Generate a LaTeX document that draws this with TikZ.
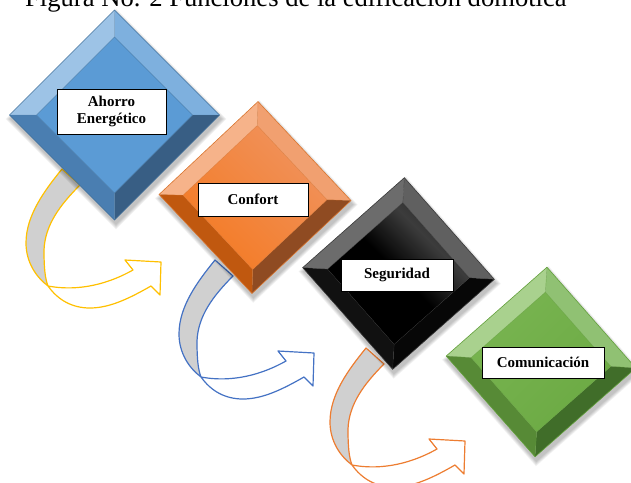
\documentclass[tikz,border=0pt]{standalone}
\usepackage{fontspec}
\setmainfont{Liberation Serif}

% bevel faces: TL, TR, BL, BR, inner face, outline
\definecolor{blueTL}{HTML}{9DC3E6}
\definecolor{blueTR}{HTML}{7EB0DE}
\definecolor{blueBL}{HTML}{4A7EB1}
\definecolor{blueBR}{HTML}{385E84}
\definecolor{blueIn}{HTML}{5B9BD5}
\definecolor{blueLine}{HTML}{41719C}
\definecolor{orangeTL}{HTML}{F6B38A}
\definecolor{orangeTR}{HTML}{F1A070}
\definecolor{orangeBL}{HTML}{C0580F}
\definecolor{orangeBR}{HTML}{8F4B22}
\definecolor{orangeIn}{HTML}{F47B25}
\definecolor{orangeInHi}{HTML}{F0925C}
\definecolor{orangeLine}{HTML}{D9752F}
\definecolor{blackTL}{HTML}{6C6C6C}
\definecolor{blackTR}{HTML}{606060}
\definecolor{blackBL}{HTML}{111111}
\definecolor{blackBR}{HTML}{070707}
\definecolor{blackGlint}{HTML}{3C3C3C}
\definecolor{blackEdge}{HTML}{2A2A2A}
\definecolor{blackLine}{HTML}{3A3A3A}
\definecolor{greenTL}{HTML}{A9D18E}
\definecolor{greenTR}{HTML}{90C173}
\definecolor{greenBL}{HTML}{578A36}
\definecolor{greenBR}{HTML}{406D29}
\definecolor{greenIn}{HTML}{6CAA44}
\definecolor{greenInHi}{HTML}{78B450}
\definecolor{greenLine}{HTML}{63A03C}
% curved arrows
\definecolor{arrYellow}{HTML}{FFC000}
\definecolor{arrBlue}{HTML}{4472C4}
\definecolor{arrOrange}{HTML}{ED7D31}
\definecolor{arrGrey}{HTML}{D0D0D0}

% glossy glint along the upper right of the black face
\pgfdeclarehorizontalshading{gemglint}{100bp}{color(0bp)=(black); color(50bp)=(black);
  color(66bp)=(blackGlint); color(75bp)=(blackEdge); color(100bp)=(blackEdge)}

\tikzset{
  blue inner/.style={fill=blueIn},
  orange inner/.style={top color=orangeInHi, bottom color=orangeIn, shading angle=-45},
  black inner/.style={shading=gemglint, shading angle=45},
  green inner/.style={top color=greenInHi, bottom color=greenIn, shading angle=45},
  lbl/.style={draw=black, line width=0.8pt, fill=white, align=center, inner sep=0pt,
    font=\fontsize{15}{17}\selectfont\bfseries},
  band/.style={line width=1.2pt, line join=round},
}

% bevelled diamond: colour prefix, centre x, centre y, outer radius, inner radius, rotation
\newcommand{\gem}[6]{%
  \begin{scope}[shift={(#2,#3)}, rotate=#6]
    \foreach \k in {1,...,6}{
      \fill[black, opacity=0.045]
        (1.5,{-#4-\k*0.9+4}) -- ({#4+\k*0.9+1.5},4) -- (1.5,{#4+\k*0.9+4}) -- ({-#4-\k*0.9+1.5},4) -- cycle;
    }
    \fill[#1TL] (-#4,0) -- (0,-#4) -- (0,-#5) -- (-#5,0) -- cycle;
    \fill[#1TR] (0,-#4) -- (#4,0) -- (#5,0) -- (0,-#5) -- cycle;
    \fill[#1BR] (#4,0) -- (0,#4) -- (0,#5) -- (#5,0) -- cycle;
    \fill[#1BL] (0,#4) -- (-#4,0) -- (-#5,0) -- (0,#5) -- cycle;
    \path[#1 inner] (0,-#5) -- (#5,0) -- (0,#5) -- (-#5,0) -- cycle;
    \draw[#1Line, line width=0.6pt, line join=miter]
      (0,-#4) -- (#4,0) -- (0,#4) -- (-#4,0) -- cycle;
    \draw[#1Line, line width=0.4pt, opacity=0.6]
      (0,-#5) -- (#5,0) -- (0,#5) -- (-#5,0) -- cycle
      (0,-#4) -- (0,-#5) (#4,0) -- (#5,0) (0,#4) -- (0,#5) (-#4,0) -- (-#5,0);
  \end{scope}%
}

% curved arrow leaving a diamond: outline colour, shift x, shift y
\newcommand{\swoosh}[3]{%
  \begin{scope}[shift={(#2,#3)}]
    \filldraw[band, fill=arrGrey, draw=#1]
      (62,169) .. controls (45,190) and (26,215) .. (26,243)
      .. controls (26,262) and (36,277) .. (48,286)
      .. controls (45,278) and (44,268) .. (44,250)
      .. controls (45,225) and (60,205) .. (80,185) -- cycle;
    \filldraw[band, fill=white, draw=#1]
      (48,286) .. controls (58,300) and (72,308) .. (90,308)
      .. controls (110,308) and (130,298) .. (151,286)
      -- (160,295) -- (161,262) -- (125,260) -- (133,270)
      .. controls (110,283) and (80,292) .. (48,286) -- cycle;
  \end{scope}%
}

\begin{document}
\begin{tikzpicture}[x=1pt, y=-1pt]
  \useasboundingbox (0,0) rectangle (631,482);
  \clip (0,0) rectangle (631,482);

  \node[anchor=base west, inner sep=0pt, font=\fontsize{26.6}{30}\selectfont]
    (title) at (25,6) {Figura No. 2 Funciones de la edificación domótica};

  % curved arrows between the steps
  \swoosh{arrYellow}{0}{0}
  \swoosh{arrBlue}{153}{91}
  \swoosh{arrOrange}{304}{179}

  % the four steps
  \gem{blue}{114.5}{115}{105}{78}{0}
  \gem{orange}{255}{197.5}{96}{72}{-1.8}
  \gem{black}{398.5}{273.5}{96}{71}{-3.5}
  \gem{green}{541}{362}{95}{70}{-3.6}

  \node[lbl, minimum width=109pt, minimum height=45pt] (ahorro) at (111.5,111.5) {Ahorro\\Energético};
  \node[lbl, minimum width=110pt, minimum height=33pt] (confort) at (253,199.5) {Confort};
  \node[lbl, minimum width=112pt, minimum height=32pt] (seguridad) at (397,275) {Seguridad};
  \node[lbl, minimum width=122pt, minimum height=31pt] (comunicacion) at (543,362.5) {Comunicación};
\end{tikzpicture}
\end{document}
